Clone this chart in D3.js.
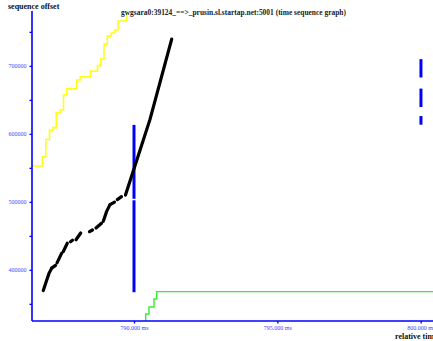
<!DOCTYPE html>
<html>
<head>
<meta charset="utf-8">
<script src="https://cdn.jsdelivr.net/npm/d3@7"></script>
<style>
  html, body { margin: 0; padding: 0; background: #fff; }
  svg { display: block; }
  text { font-family: "Liberation Serif", "DejaVu Serif", serif; }
</style>
</head>
<body>
<svg id="chart" width="433" height="341"></svg>
<script>
// Advertised receive window (yellow step line): time in ms, sequence offset
const winTimes = [786.30, 786.801, 786.923, 787.052, 787.171, 787.286, 787.426, 787.541, 787.656,
                  788.005, 788.123, 788.483, 788.727, 788.838, 788.953, 789.069, 789.208, 789.327,
                  789.442, 789.745, 789.80];
const winSeq   = [552700, 566300, 591800, 605400, 609100, 631400, 635400, 657500, 666300,
                  679200, 684100, 692200, 700300, 709900, 732000, 743800, 748200, 752700,
                  765900, 777700, 777700];

// Cumulative ACK line (green step line)
const ackTimes = [790.408, 790.408, 790.523, 790.698, 790.792, 800.60];
const ackSeq   = [320000, 335100, 345400, 357200, 368000, 368000];

// Data segments sent (black), grouped into runs of [time, sequence] points
const segRuns = [
  [[786.836, 369450], [786.948, 383800], [787.035, 394800], [787.129, 402500]],
  [[787.129, 402500], [787.262, 406600]],
  [[787.314, 410300], [787.478, 424600]],
  [[787.534, 427000], [787.673, 439100]],
  [[787.785, 441300], [787.855, 443500]],
  [[787.977, 444300], [788.141, 454200]],
  [[788.448, 456100], [788.552, 458600]],
  [[788.674, 461500], [788.866, 468600]],
  [[788.929, 471300], [789.041, 485600], [789.163, 495900]],
  [[789.163, 495900], [789.320, 499600]],
  [[789.417, 503300], [789.564, 507700]],
  [[789.703, 509900], [790.105, 562300], [790.558, 621300], [791.315, 739400]]
];

// Blue vertical marks: [time, sequence from, sequence to]
const blueMarks = [
  [790.000, 613200, 504500],
  [790.000, 502300, 367100],
  [800.010, 709900, 682900],
  [800.010, 666600, 639500],
  [800.010, 626200, 613500]
];

// Axis ticks
const timeTicks = [790, 795, 800];
const seqTicks = [400000, 500000, 600000, 700000];
const seqMinorTicks = [350000, 450000, 550000, 650000, 750000];

const titleText = "gwgsara0:39124_==>_prusin.sl.startap.net:5001 (time sequence graph)";
const yTitle = "sequence offset";
const xTitle = "relative time";

const W = 433, H = 341;
const plot = { left: 32, right: 433, top: 11, bottom: 321 };

const x = d3.scaleLinear().domain([786.442, 800.43]).range([plot.left, plot.right]);
const y = d3.scaleLinear().domain([324750, 780700]).range([plot.bottom, plot.top]);

const svg = d3.select("#chart");

svg.append("defs").append("clipPath").attr("id", "plotClip")
  .append("rect")
  .attr("x", plot.left).attr("y", plot.top - 4)
  .attr("width", plot.right - plot.left).attr("height", plot.bottom - plot.top + 4);

const g = svg.append("g").attr("clip-path", "url(#plotClip)");

// Receive window
const stepLine = d3.line().x(d => x(d[0])).y(d => y(d[1])).curve(d3.curveStepAfter);
g.append("path")
  .datum(winTimes.map((t, i) => [t, winSeq[i]]))
  .attr("d", stepLine)
  .attr("fill", "none")
  .attr("stroke", "#ffff1a")
  .attr("stroke-width", 1.6);

// ACK line
g.append("path")
  .datum(ackTimes.map((t, i) => [t, ackSeq[i]]))
  .attr("d", stepLine)
  .attr("fill", "none")
  .attr("stroke", "#33ee33")
  .attr("stroke-width", 1.4);

// Blue marks
g.selectAll("line.blue")
  .data(blueMarks)
  .join("line")
  .attr("class", "blue")
  .attr("x1", d => x(d[0])).attr("x2", d => x(d[0]))
  .attr("y1", d => y(d[1])).attr("y2", d => y(d[2]))
  .attr("stroke", "#0000ff")
  .attr("stroke-width", 3);

// Segments
const segLine = d3.line().x(d => x(d[0])).y(d => y(d[1]));
g.selectAll("path.seg")
  .data(segRuns)
  .join("path")
  .attr("class", "seg")
  .attr("d", segLine)
  .attr("fill", "none")
  .attr("stroke", "#000")
  .attr("stroke-width", 3.2)
  .attr("stroke-linecap", "round")
  .attr("stroke-linejoin", "round");

// Axes
const axisColor = "#0000ff";
const labelColor = "#4444ff";

const yAxis = svg.append("g").attr("transform", `translate(${plot.left},0)`);
yAxis.call(d3.axisLeft(y).tickValues(seqTicks).tickSize(2.5).tickPadding(3).tickFormat(d3.format("d")));
yAxis.append("g").call(d3.axisLeft(y).tickValues(seqMinorTicks).tickSize(2.5).tickFormat(""));
yAxis.selectAll(".domain").remove();
yAxis.append("line")
  .attr("x1", 0).attr("x2", 0).attr("y1", plot.top).attr("y2", plot.bottom)
  .attr("stroke", axisColor).attr("stroke-width", 1.6);

const xAxis = svg.append("g").attr("transform", `translate(0,${plot.bottom})`);
xAxis.call(d3.axisBottom(x).tickValues(timeTicks).tickSize(2.5).tickPadding(2)
  .tickFormat(d => d3.format(".3f")(d) + " ms"));
xAxis.selectAll(".domain").remove();
xAxis.append("line")
  .attr("x1", plot.left).attr("x2", plot.right).attr("y1", 0).attr("y2", 0)
  .attr("stroke", axisColor).attr("stroke-width", 1.6);

svg.selectAll(".tick line").attr("stroke", axisColor).attr("stroke-width", 1.3);
svg.selectAll(".tick text")
  .attr("fill", labelColor)
  .style("font-family", '"Liberation Serif", "DejaVu Serif", serif')
  .style("font-size", "6px");

// Titles
svg.append("text")
  .attr("x", 8).attr("y", 9)
  .attr("font-size", 8).attr("font-weight", "bold").attr("fill", "#111")
  .text(yTitle);

svg.append("text")
  .attr("x", 121).attr("y", 14.5)
  .attr("font-size", 7.6).attr("font-weight", "bold").attr("fill", "#222")
  .attr("textLength", 225).attr("lengthAdjust", "spacingAndGlyphs")
  .text(titleText);

svg.append("text")
  .attr("x", 395).attr("y", 338.5)
  .attr("font-size", 8).attr("font-weight", "bold").attr("fill", "#111")
  .text(xTitle);
</script>
</body>
</html>
